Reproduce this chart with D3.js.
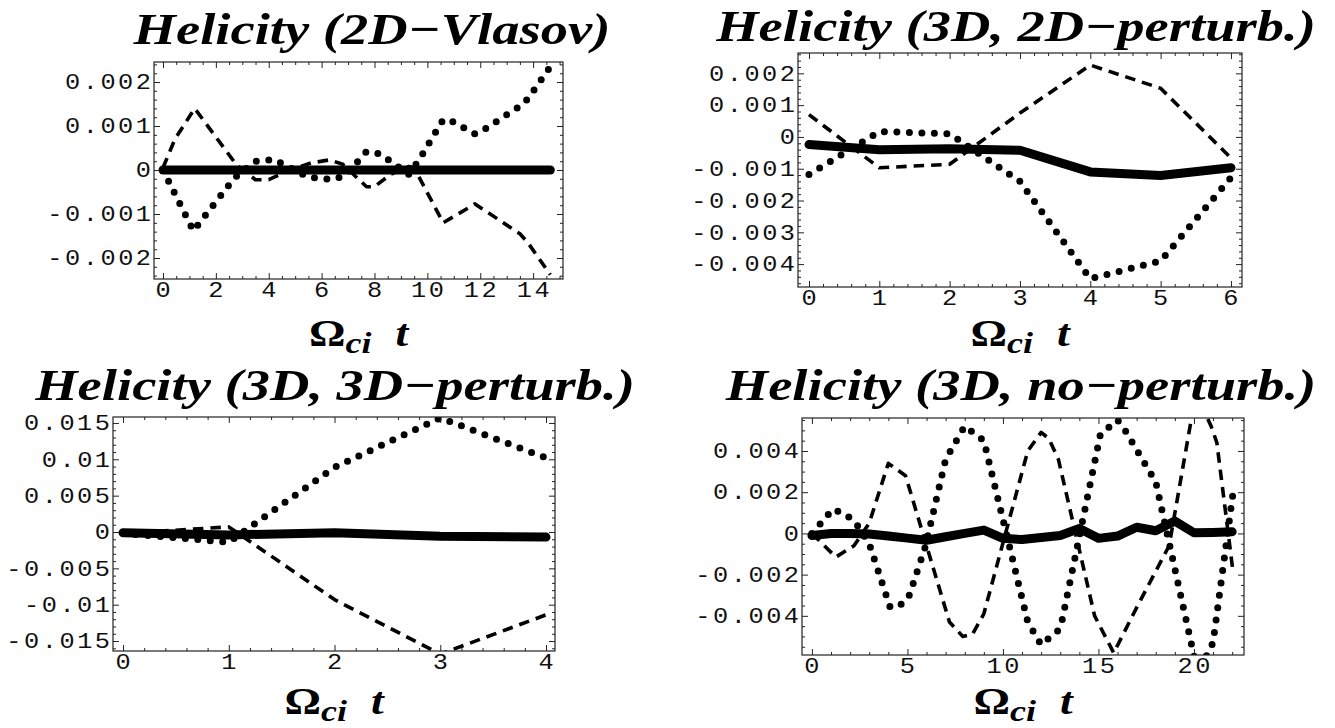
<!DOCTYPE html>
<html><head><meta charset="utf-8">
<script src="https://cdn.jsdelivr.net/npm/d3@7"></script>
<style>body{margin:0;background:#fff;} svg{display:block;}</style>
</head><body>
<svg id="chart" width="1335" height="728"></svg>
<script>
// ---------- DATA ----------
const titles = ["Helicity (2D\u2212Vlasov)", "Helicity (3D, 2D\u2212perturb.)",
                "Helicity (3D, 3D\u2212perturb.)", "Helicity (3D, no\u2212perturb.)"];

// Panel 1: 2D-Vlasov
const p1SolidT = [0, 14.65];
const p1SolidV = [0, 0];
const p1DotT = [0, 1.15, 2.7, 3.5, 4.2, 4.7, 5.5, 6.4, 6.9, 7.7, 8.2, 9.3, 9.7, 10.6, 10.9, 11.8, 12.0, 13.5, 13.8, 14.65];
const p1DotV = [0, -0.00138, -0.00018, 0.0002, 0.00024, 0.00008, -0.00016, -0.00022, -0.00012, 0.00042, 0.00037, -0.0001, 0.00024, 0.00115, 0.00112, 0.00082, 0.00086, 0.00145, 0.00162, 0.00235];
const p1DashT = [0, 0.45, 1.2, 2.8, 3.5, 4.0, 4.8, 5.6, 6.3, 6.8, 7.7, 8.0, 8.6, 9.3, 9.5, 10.6, 11.8, 13.5, 13.8, 14.65];
const p1DashV = [0.00005, 0.0007, 0.0014, 0.0001, -0.00022, -0.00022, 0, 0.00016, 0.00023, 0.00013, -0.00038, -0.00038, -0.0001, 0.00008, 0.00005, -0.0012, -0.00077, -0.00145, -0.00165, -0.00238];
const p1XTicks = [0, 2, 4, 6, 8, 10, 12, 14];
const p1YTicks = [-0.002, -0.001, 0, 0.001, 0.002];
const p1YLabels = ["-0.002", "-0.001", "0", "0.001", "0.002"];

// Panel 2: 3D, 2D-perturb.
const p2T = [0, 1, 2, 3, 4, 5, 6];
const p2Solid = [-0.00024, -0.0004, -0.00037, -0.00042, -0.0011, -0.00121, -0.00097];
const p2Dot = [-0.00118, 0.00017, 0.0001, -0.0014, -0.00446, -0.0039, -0.00128];
const p2Dash = [0.0007, -0.00097, -0.00086, 0.00075, 0.00226, 0.00153, -0.00066];
const p2XTicks = [0, 1, 2, 3, 4, 5, 6];
const p2YTicks = [-0.004, -0.003, -0.002, -0.001, 0, 0.001, 0.002];
const p2YLabels = ["-0.004", "-0.003", "-0.002", "-0.001", "0", "0.001", "0.002"];

// Panel 3: 3D, 3D-perturb.
const p3T = [0, 1, 2, 3, 4];
const p3Solid = [-0.0001, -0.0004, -0.0001, -0.0006, -0.0007];
const p3Dot = [-0.0002, -0.0014, 0.0089, 0.0157, 0.0102];
const p3Dash = [-0.0002, 0.0007, -0.0093, -0.0168, -0.0114];
const p3XTicks = [0, 1, 2, 3, 4];
const p3YTicks = [-0.015, -0.01, -0.005, 0, 0.005, 0.01, 0.015];
const p3YLabels = ["-0.015", "-0.01", "-0.005", "0", "0.005", "0.01", "0.015"];

// Panel 4: 3D, no-perturb.
const p4SolidT = [0, 1, 2, 3, 4, 5, 6, 7, 8, 9, 10, 11, 12, 13, 14, 15, 16, 17, 18, 19, 20, 21, 22];
const p4SolidV = [-0.0001, 0, 0, -0.00003, -0.00013, -0.00023, -0.00033, -0.00016, 0, 0.00016, -0.00024, -0.0003, -0.0002, -0.0001, 0.00024, -0.00024, -0.00013, 0.0003, 0.00013, 0.0006, 0.00003, 0.00005, 0.00008];
const p4DotT = [0, 1.1, 1.8, 2.3, 3.0, 4.1, 4.8, 5.1, 5.95, 7.0, 8.0, 9.0, 11.3, 12.0, 12.9, 13.1, 15.1, 16.0, 16.4, 18.0, 19.85, 20.2, 21.0, 22.05];
const p4DotV = [0, 0.00118, 0.0009, 0.0005, -0.0005, -0.0036, -0.0034, -0.003, -0.0006, 0.0036, 0.0052, 0.0045, -0.0043, -0.0054, -0.0047, -0.0042, 0.0048, 0.0055, 0.005, 0.0025, -0.0053, -0.0068, -0.0053, 0.002];
const p4DashT = [0, 1.25, 2.2, 3.0, 4.0, 4.9, 7.2, 7.9, 8.4, 9.0, 11.3, 12.0, 12.4, 12.9, 14.8, 15.8, 17.0, 18.7, 20.1, 20.9, 21.2, 22.05];
const p4DashV = [0, -0.00115, -0.0006, 0.0005, 0.0034, 0.0028, -0.0043, -0.005, -0.0049, -0.0039, 0.004, 0.0049, 0.0046, 0.0036, -0.004, -0.0058, -0.0036, -0.0006, 0.0068, 0.0052, 0.0044, -0.0019];
const p4XTicks = [0, 5, 10, 15, 20];
const p4YTicks = [-0.004, -0.002, 0, 0.002, 0.004];
const p4YLabels = ["-0.004", "-0.002", "0", "0.002", "0.004"];

const zip = (t, v) => t.map((d, i) => [d, v[i]]);

// ---------- LAYOUT ----------
const panels = [
  { title: titles[0], l: 154, r: 563, t: 62, b: 279, xDom: [-0.34, 15.13], yDom: [-0.002477, 0.002455],
    xTicks: p1XTicks, xMinor: 0.5, yTicks: p1YTicks, yLabels: p1YLabels, yMinor: 0.0002, titleY: 44, titleX: 372, omegaY: 346,
    solid: zip(p1SolidT, p1SolidV), dot: zip(p1DotT, p1DotV), dash: zip(p1DashT, p1DashV) },
  { title: titles[1], l: 798, r: 1242, t: 53, b: 287, xDom: [-0.156, 6.157], yDom: [-0.00472, 0.00264],
    xTicks: p2XTicks, xMinor: 0.2, yTicks: p2YTicks, yLabels: p2YLabels, yMinor: 0.0002, titleY: 41, titleX: 1016, omegaY: 346,
    solid: zip(p2T, p2Solid), dot: zip(p2T, p2Dot), dash: zip(p2T, p2Dash) },
  { title: titles[2], l: 113, r: 555, t: 417, b: 651, xDom: [-0.095, 4.085], yDom: [-0.01637, 0.01582],
    xTicks: p3XTicks, xMinor: 0.2, yTicks: p3YTicks, yLabels: p3YLabels, yMinor: 0.001, titleY: 400, titleX: 335, omegaY: 714,
    solid: zip(p3T, p3Solid), dot: zip(p3T, p3Dot), dash: zip(p3T, p3Dash) },
  { title: titles[3], l: 802, r: 1244, t: 418, b: 655, xDom: [-0.52, 22.62], yDom: [-0.0059, 0.0056],
    xTicks: p4XTicks, xMinor: 1, yTicks: p4YTicks, yLabels: p4YLabels, yMinor: 0.0005, titleY: 400, titleX: 1021, omegaY: 714,
    solid: zip(p4SolidT, p4SolidV), dot: zip(p4DotT, p4DotV), dash: zip(p4DashT, p4DashV) }
];

const svg = d3.select("#chart");
const tickFont = "'Liberation Mono', 'Courier New', monospace";
const serif = "'Liberation Serif', 'Times New Roman', serif";
const TFS = 22, TSX = 1.15, LS = 2.2;   // tick label font size, horizontal stretch, letter spacing
const TITLE_SX = 1.24, OMEGA_SX = 1.2;

function minorTicks(dom, step, majors) {
  const out = [];
  const start = Math.ceil(dom[0] / step - 1e-9);
  const end = Math.floor(dom[1] / step + 1e-9);
  for (let k = start; k <= end; k++) {
    const v = +(k * step).toFixed(10);
    if (!majors.some(m => Math.abs(m - v) < step * 1e-3)) out.push(v);
  }
  return out;
}

panels.forEach((p, i) => {
  const x = d3.scaleLinear().domain(p.xDom).range([p.l, p.r]);
  const y = d3.scaleLinear().domain(p.yDom).range([p.b, p.t]);
  const g = svg.append("g");

  const clipId = "clip" + i;
  svg.append("clipPath").attr("id", clipId).append("rect")
    .attr("x", p.l).attr("y", p.t).attr("width", p.r - p.l).attr("height", p.b - p.t);

  const line = d3.line().x(d => x(d[0])).y(d => y(d[1]));
  const data = g.append("g").attr("clip-path", `url(#${clipId})`);
  data.append("path").attr("d", line(p.dash)).attr("fill", "none").attr("stroke", "#000")
    .attr("stroke-width", 3.6).attr("stroke-dasharray", "10.5 7").attr("stroke-linejoin", "round");
  data.append("path").attr("d", line(p.dot)).attr("fill", "none").attr("stroke", "#000")
    .attr("stroke-width", 7).attr("stroke-dasharray", "0 12.5").attr("stroke-linecap", "round")
    .attr("stroke-linejoin", "round");
  data.append("path").attr("d", line(p.solid)).attr("fill", "none").attr("stroke", "#000")
    .attr("stroke-width", 9).attr("stroke-linecap", "round").attr("stroke-linejoin", "round");

  // frame
  g.append("rect").attr("x", p.l).attr("y", p.t).attr("width", p.r - p.l).attr("height", p.b - p.t)
    .attr("fill", "none").attr("stroke", "#222").attr("stroke-width", 1.2);

  const xMin = minorTicks(p.xDom, p.xMinor, p.xTicks);
  const yMin = minorTicks(p.yDom, p.yMinor, p.yTicks);

  // major ticks (inward, all four sides)
  g.append("g").attr("transform", `translate(0,${p.b})`).call(d3.axisBottom(x).tickValues(p.xTicks).tickSize(-6).tickFormat(""));
  g.append("g").attr("transform", `translate(${p.l},0)`).call(d3.axisLeft(y).tickValues(p.yTicks).tickSize(-6).tickFormat(""));
  g.append("g").attr("transform", `translate(0,${p.t})`).call(d3.axisTop(x).tickValues(p.xTicks).tickSize(-6).tickFormat(""));
  g.append("g").attr("transform", `translate(${p.r},0)`).call(d3.axisRight(y).tickValues(p.yTicks).tickSize(-6).tickFormat(""));
  // minor ticks
  g.append("g").attr("transform", `translate(0,${p.b})`).call(d3.axisBottom(x).tickValues(xMin).tickSize(-3).tickFormat(""));
  g.append("g").attr("transform", `translate(0,${p.t})`).call(d3.axisTop(x).tickValues(xMin).tickSize(-3).tickFormat(""));
  g.append("g").attr("transform", `translate(${p.l},0)`).call(d3.axisLeft(y).tickValues(yMin).tickSize(-3).tickFormat(""));
  g.append("g").attr("transform", `translate(${p.r},0)`).call(d3.axisRight(y).tickValues(yMin).tickSize(-3).tickFormat(""));
  g.selectAll(".domain").remove();
  g.selectAll(".tick line").attr("stroke", "#222").attr("stroke-width", 1);

  // tick labels (horizontally stretched Courier-like text)
  g.selectAll(".xlab").data(p.xTicks).join("text").attr("class", "xlab")
    .attr("transform", d => `translate(${x(d) + LS * TSX / 2},${p.b + 18}) scale(${TSX},1)`)
    .attr("text-anchor", "middle").attr("font-family", tickFont).attr("font-size", TFS)
    .attr("fill", "#111").style("letter-spacing", LS + "px").text(d => String(d));
  g.selectAll(".ylab").data(p.yTicks).join("text").attr("class", "ylab")
    .attr("transform", d => `translate(${p.l - 3 + LS * TSX},${y(d)}) scale(${TSX},1)`)
    .attr("dy", "0.33em")
    .attr("text-anchor", "end").attr("font-family", tickFont).attr("font-size", TFS)
    .attr("fill", "#111").style("letter-spacing", LS + "px").text((d, k) => p.yLabels[k]);

  // title
  svg.append("text").attr("transform", `translate(${p.titleX},${p.titleY}) scale(${TITLE_SX},1)`)
    .attr("text-anchor", "middle")
    .attr("font-family", serif).attr("font-weight", "bold").attr("font-style", "italic")
    .attr("font-size", 44).text(p.title);

  // x axis label: Omega_ci t
  const lab = svg.append("text")
    .attr("transform", `translate(${(p.l + p.r) / 2},${p.omegaY}) scale(${OMEGA_SX},1)`)
    .attr("text-anchor", "middle")
    .attr("font-family", serif).attr("font-weight", "bold").attr("font-size", 38);
  lab.append("tspan").text("\u03A9");
  lab.append("tspan").attr("font-style", "italic").attr("font-size", 30).attr("dy", 7).text("ci");
  lab.append("tspan").attr("font-style", "italic").attr("dy", -7).attr("dx", 20).text("t");
});
</script>
</body></html>
